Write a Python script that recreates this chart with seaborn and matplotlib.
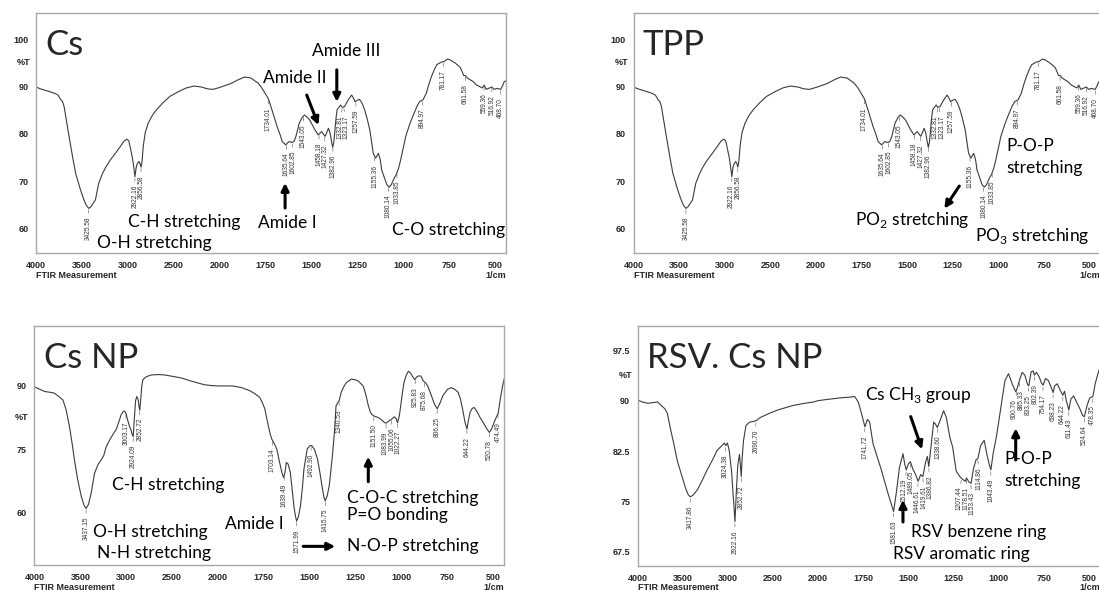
import numpy as np
import matplotlib
matplotlib.use("Agg")
import matplotlib.pyplot as plt
import seaborn as sns
from matplotlib.ticker import FixedLocator

# ---- spectra (wavenumber 1/cm, %T) ----
# Cs and TPP panels show the same trace
cs_wn = [4000, 3950, 3900, 3850, 3800, 3760, 3730, 3710, 3694, 3670, 3640, 3600, 3568, 3520,
         3478, 3450, 3425, 3400, 3353, 3317, 3281, 3240, 3191, 3140, 3083, 3040, 3011, 2990,
         2975, 2950, 2935, 2922, 2910, 2900, 2880, 2867, 2856, 2845, 2831, 2810, 2777, 2730,
         2687, 2620, 2543, 2450, 2363, 2280, 2200, 2130, 2070, 2000, 1940, 1900, 1865, 1830,
         1790, 1770, 1753, 1734, 1715, 1700, 1687, 1670, 1659, 1640, 1622, 1607, 1595, 1584,
         1566, 1550, 1538, 1525, 1510, 1495, 1481, 1463, 1444, 1435, 1425, 1415, 1407, 1398,
         1392, 1384, 1378, 1373, 1366, 1360, 1341, 1332, 1319, 1305, 1294, 1281, 1270, 1262,
         1250, 1238, 1225, 1210, 1195, 1182, 1170, 1163, 1150, 1135, 1125, 1117, 1100, 1089,
         1076, 1065, 1057, 1045, 1038, 1025, 1014, 1000, 986, 965, 948, 925, 911, 892, 874,
         860, 846, 830, 817, 795, 776, 758, 743, 715, 700, 687, 670, 661, 650, 635, 621, 600,
         584, 570, 559, 548, 535, 517, 505, 490, 469, 458, 450, 440]
cs_t = [89.9, 89.5, 89.2, 88.9, 88.6, 88.2, 87.2, 86.8, 85.8, 83.0, 79.5, 75.0, 71.7, 68.5,
        66.1, 64.9, 64.3, 64.7, 66.1, 69.6, 71.4, 73.0, 74.5, 75.8, 77.3, 78.5, 78.9, 78.6,
        77.3, 75.0, 73.0, 71.0, 72.8, 73.6, 74.2, 73.8, 73.0, 74.2, 77.5, 80.3, 82.3, 84.0,
        85.1, 86.5, 87.9, 88.9, 89.7, 90.1, 89.9, 89.5, 89.4, 89.8, 90.6, 91.4, 92.0, 91.8,
        90.7, 89.7, 88.6, 87.4, 85.1, 83.2, 81.6, 79.8, 78.4, 77.7, 78.4, 78.2, 78.4, 79.5,
        82.3, 83.5, 84.0, 83.6, 83.0, 81.9, 80.9, 79.8, 80.5, 80.0, 79.5, 80.4, 81.2, 80.2,
        78.8, 77.2, 78.2, 80.2, 83.3, 85.1, 86.1, 85.6, 85.8, 86.8, 87.5, 88.2, 87.5, 86.8,
        87.1, 87.3, 86.6, 85.1, 83.0, 80.9, 77.8, 75.9, 74.9, 75.9, 74.6, 72.4, 70.5, 69.3,
        68.8, 69.3, 70.0, 71.0, 71.4, 72.8, 74.5, 77.0, 79.5, 82.0, 83.7, 85.8, 86.8, 87.2,
        88.6, 90.5, 92.1, 93.6, 94.6, 95.1, 95.3, 95.8, 95.6, 94.9, 94.4, 93.9, 92.3, 92.3,
        91.8, 91.4, 91.1, 90.3, 90.0, 89.7, 90.3, 89.4, 89.6, 89.9, 89.4, 89.6, 89.4, 90.2,
        91.0, 91.2]
cs_peaks = ["3425.58", "2922.16", "2856.58", "1734.01", "1635.64", "1602.85", "1543.05",
            "1458.18", "1427.32", "1382.96", "1332.81", "1323.17", "1257.59", "1155.36",
            "1080.14", "1033.85", "894.97", "781.17", "661.58", "559.36", "516.92", "468.70",
            "424.34"]

csnp_wn = [4000, 3950, 3890, 3830, 3782, 3740, 3690, 3655, 3618, 3590, 3564, 3530, 3490,
           3460, 3437, 3410, 3382, 3345, 3309, 3273, 3245, 3218, 3180, 3145, 3109, 3080,
           3055, 3030, 3015, 3003, 2985, 2965, 2945, 2935, 2924, 2912, 2898, 2885, 2870,
           2860, 2852, 2843, 2830, 2818, 2780, 2727, 2650, 2582, 2500, 2400, 2300, 2218,
           2150, 2073, 2000, 1920, 1870, 1828, 1800, 1773, 1760, 1745, 1735, 1726, 1715,
           1707, 1695, 1680, 1665, 1652, 1643, 1635, 1628, 1618, 1606, 1595, 1585, 1578,
           1572, 1562, 1551, 1540, 1532, 1522, 1514, 1500, 1490, 1475, 1458, 1445, 1431,
           1422, 1416, 1405, 1394, 1385, 1375, 1365, 1357, 1347, 1340, 1329, 1315, 1301,
           1274, 1255, 1237, 1209, 1195, 1181, 1170, 1163, 1151, 1126, 1110, 1092, 1084,
           1070, 1055, 1040, 1030, 1022, 1012, 1005, 995, 987, 975, 963, 950, 941, 928,
           920, 913, 900, 894, 882, 870, 858, 840, 821, 806, 790, 775, 750, 729, 710, 692,
           680, 668, 655, 644, 636, 627, 615, 605, 590, 572, 555, 535, 522, 510, 495, 480,
           474, 460, 450, 440]
csnp_t = [89.8, 89.3, 88.7, 88.5, 88.3, 87.6, 86.7, 84.4, 80.4, 76.5, 72.5, 68.0, 63.9,
          61.8, 61.0, 62.0, 64.6, 69.3, 71.3, 72.5, 73.5, 75.6, 77.2, 78.5, 79.7, 81.5,
          83.2, 84.0, 84.0, 83.5, 82.0, 80.5, 79.4, 78.5, 78.0, 82.0, 86.5, 87.5, 86.8,
          85.0, 84.3, 86.5, 90.0, 91.5, 92.2, 92.6, 92.7, 92.6, 92.3, 91.9, 91.2, 90.7,
          90.3, 90.1, 90.0, 90.0, 89.6, 88.9, 88.2, 87.3, 86.2, 84.6, 82.5, 80.6, 78.5,
          77.4, 76.5, 75.1, 72.0, 69.5, 68.3, 69.5, 71.9, 71.5, 69.5, 65.0, 61.0, 59.2,
          58.0, 59.0, 61.5, 66.0, 70.3, 73.0, 75.1, 75.8, 75.9, 75.0, 72.7, 69.5, 65.6,
          63.5, 62.8, 64.0, 66.4, 70.0, 74.3, 79.5, 85.3, 86.1, 86.5, 88.5, 89.8, 90.8,
          91.6, 91.5, 91.2, 90.0, 88.0, 85.3, 83.8, 83.3, 82.9, 82.5, 82.0, 81.3, 81.2,
          81.7, 82.1, 82.7, 82.3, 81.3, 83.0, 85.3, 88.5, 90.8, 92.5, 93.5, 93.0, 92.3,
          91.5, 92.0, 92.3, 92.4, 92.3, 91.2, 90.8, 90.0, 88.0, 85.7, 84.6, 86.0, 87.7,
          89.2, 89.6, 89.2, 88.5, 87.0, 84.6, 81.5, 79.8, 81.8, 83.8, 84.7, 84.9, 84.0,
          82.5, 81.3, 79.8, 79.0, 79.8, 81.5, 83.0, 83.5, 87.5, 90.0, 91.8]
csnp_peaks = ["3437.15", "3003.17", "2924.09", "2852.72", "1703.14", "1639.49", "1571.99",
              "1492.90", "1415.75", "1340.53", "1151.50", "1083.99", "1055.06", "1022.27",
              "925.83", "875.68", "806.25", "644.22", "520.78", "474.49", "424.34"]

rsv_wn = [4000, 3950, 3886, 3830, 3779, 3750, 3725, 3700, 3671, 3640, 3600, 3560, 3520,
          3470, 3440, 3418, 3390, 3340, 3290, 3230, 3170, 3120, 3060, 3040, 3024, 3005,
          2985, 2960, 2940, 2922, 2905, 2890, 2872, 2862, 2853, 2842, 2828, 2800, 2760,
          2720, 2690, 2640, 2560, 2450, 2350, 2270, 2150, 2050, 2000, 1943, 1880, 1834,
          1797, 1778, 1760, 1741, 1727, 1715, 1696, 1650, 1613, 1582, 1566, 1550, 1530,
          1520, 1512, 1500, 1489, 1475, 1460, 1446, 1432, 1420, 1405, 1395, 1387, 1375,
          1360, 1350, 1340, 1325, 1305, 1290, 1270, 1255, 1235, 1215, 1200, 1185, 1178,
          1165, 1153, 1140, 1125, 1115, 1100, 1080, 1065, 1052, 1043, 1030, 1010, 985,
          965, 945, 925, 905, 895, 885, 870, 855, 840, 833, 820, 808, 802, 790, 775, 762,
          754, 740, 725, 712, 698, 690, 675, 660, 644, 635, 625, 611, 600, 585, 570, 550,
          535, 525, 510, 495, 478, 465, 450, 440]
rsv_t = [90.1, 89.8, 89.6, 89.7, 89.8, 89.4, 89.1, 88.8, 88.1, 86.0, 83.6, 81.0, 79.2,
         77.0, 76.0, 75.7, 75.9, 76.7, 78.0, 79.7, 81.2, 82.6, 83.4, 83.7, 83.3, 83.7,
         82.5, 79.5, 75.5, 72.0, 77.0, 80.5, 82.0, 80.5, 78.7, 81.5, 84.0, 86.3, 86.8,
         86.9, 87.0, 87.5, 88.0, 88.6, 89.0, 89.3, 89.6, 89.8, 90.0, 90.2, 90.4, 90.5,
         90.6, 89.8, 88.1, 86.1, 87.2, 86.8, 83.6, 79.7, 76.2, 73.5, 76.5, 80.0, 82.1,
         80.5, 79.7, 80.6, 80.9, 79.8, 79.0, 78.0, 79.0, 78.7, 80.8, 81.7, 80.2, 83.2,
         86.8, 86.5, 86.0, 87.0, 88.5, 87.5, 84.5, 83.1, 79.5, 78.7, 78.3, 78.0, 78.5,
         77.9, 77.7, 79.8, 81.2, 81.4, 83.3, 84.1, 82.0, 80.5, 79.7, 82.2, 85.0, 89.5,
         93.0, 94.0, 92.5, 91.3, 92.0, 93.0, 94.2, 93.8, 92.4, 92.2, 94.3, 94.4, 93.8,
         94.2, 93.5, 92.6, 92.3, 93.3, 93.0, 92.2, 91.2, 92.2, 92.5, 91.6, 90.8, 91.4,
         90.0, 88.6, 90.2, 90.7, 89.9, 88.8, 87.8, 87.6, 89.3, 90.4, 90.6, 92.5, 94.0,
         94.8]
rsv_peaks = ["3417.86", "3024.38", "2922.16", "2852.72", "2690.70", "1741.72", "1581.63",
             "1512.19", "1489.05", "1446.61", "1419.61", "1386.82", "1338.60", "1207.44",
             "1178.51", "1153.43", "1114.86", "1043.49", "900.76", "885.33", "833.25",
             "802.39", "754.17", "698.23", "644.22", "611.43", "524.64", "478.35"]


# FTIR x axis: half scale above 2000 1/cm
def fwd(x):
    x = np.asarray(x, dtype=float)
    return np.where(x > 2000, 2000 + (x - 2000) / 2, x)


def inv(v):
    v = np.asarray(v, dtype=float)
    return np.where(v > 2000, 2000 + (v - 2000) * 2, v)


sns.set_style("white")
plt.rcParams["font.family"] = ["Lato", "DejaVu Sans"]

W, H = 1099, 590
fig = plt.figure(figsize=(W / 100, H / 100), dpi=100)

LINE = "#3c3c3c"
SPINE = "#a8a8a8"
SMALL = dict(fontfamily="Liberation Sans", fontsize=6.5, fontweight="bold")


def make_axes(left, top, width, height):
    return fig.add_axes([left / W, 1 - (top + height) / H, width / W, height / H])


def spread(gs, gap):
    p = np.array(gs, dtype=float)
    order = np.argsort(p)
    q = p[order]
    for _ in range(200):
        moved = False
        for i in range(len(q) - 1):
            d = q[i + 1] - q[i]
            if d < gap - 1e-6:
                s = (gap - d) / 2
                q[i] -= s
                q[i + 1] += s
                moved = True
        if not moved:
            break
    out = np.empty_like(q)
    out[order] = q
    return out


def panel(ax, wn, t, peaks, ylim, major, minor, pct_y, title, w_px, h_px):
    sns.lineplot(x=wn, y=t, ax=ax, color=LINE, linewidth=0.8, sort=False,
                 estimator=None, legend=False)
    ax.set_xscale("function", functions=(fwd, inv))
    ax.set_xlim(4000, 440)
    ax.set_ylim(*ylim)
    ax.set_xlabel("")
    ax.set_ylabel("")
    ax.xaxis.set_major_locator(FixedLocator([4000, 3500, 3000, 2500, 2000, 1750, 1500,
                                             1250, 1000, 750, 500]))
    ax.xaxis.set_minor_locator(FixedLocator(list(np.arange(3900, 2000, -100)) +
                                            list(np.arange(1950, 440, -50))))
    ax.yaxis.set_major_locator(FixedLocator(major))
    ax.yaxis.set_minor_locator(FixedLocator(minor))
    ax.tick_params(which="both", direction="out", color=SPINE, width=0.7)
    ax.tick_params(which="major", length=4, pad=1.5)
    ax.tick_params(which="minor", length=2)
    ax.xaxis.set_major_formatter(matplotlib.ticker.FuncFormatter(lambda v, p: f"{v:.0f}"))
    ax.yaxis.set_major_formatter(matplotlib.ticker.FuncFormatter(lambda v, p: f"{v:g}"))
    for lab in ax.get_xticklabels() + ax.get_yticklabels():
        lab.set_fontfamily("Liberation Sans")
        lab.set_fontsize(6.5)
        lab.set_fontweight("bold")
    for s in ax.spines.values():
        s.set_color(SPINE)
        s.set_linewidth(1.0)
    ax.text(-0.012, pct_y, "%T", transform=ax.get_yaxis_transform(), ha="right",
            va="center", **SMALL)
    ax.text(0, -22 / h_px, "FTIR Measurement", transform=ax.transAxes, ha="left",
            va="center", **SMALL)
    ax.text(1, -22 / h_px, "1/cm", transform=ax.transAxes, ha="right", va="center",
            **SMALL)
    ax.text(0.02, 1 - 32 / h_px, title, transform=ax.transAxes, ha="left", va="center",
            fontsize=25)

    # peak labels with short leader lines
    px_per_u = w_px / (fwd(4000) - fwd(440))
    pw = np.array([float(p) for p in peaks])
    gpos = fwd(pw)
    lab_g = spread(gpos, 6.5 / px_per_u)
    wn_asc = np.array(wn[::-1], dtype=float)
    t_asc = np.array(t[::-1], dtype=float)
    for lbl, w, g0, g1 in zip(peaks, pw, gpos, lab_g):
        yv = np.interp(w, wn_asc, t_asc)
        dx = -(g1 - g0) * px_per_u * 0.72
        ax.annotate(lbl, xy=(w, yv - 0.3), xytext=(dx, -5), textcoords="offset points",
                    rotation=90, ha="center", va="top", fontsize=4.7,
                    fontfamily="Liberation Sans", color="#333333",
                    arrowprops=dict(arrowstyle="-", lw=0.4, color="#555555",
                                    shrinkA=0, shrinkB=0))


def text(ax, x, y, s, size=12.5):
    ax.text(x, y, s, transform=ax.transAxes, ha="left", va="center", fontsize=size,
            color="black")


def arrow(ax, x0, y0, x1, y1):
    ax.annotate("", xy=(x1, y1), xytext=(x0, y0), xycoords="axes fraction",
                textcoords="axes fraction",
                arrowprops=dict(arrowstyle="-|>", lw=2.2, color="black",
                                mutation_scale=11, shrinkA=0, shrinkB=0))


# Cs
ax1 = make_axes(36, 13, 470, 240)
panel(ax1, cs_wn, cs_t, cs_peaks, (54.9, 105.5), [60, 70, 80, 90, 100],
      list(np.arange(56, 105, 2)), 95, "Cs", 470, 240)
text(ax1, 0.588, 0.840, "Amide III")
arrow(ax1, 0.640, 0.763, 0.640, 0.630)
text(ax1, 0.484, 0.728, "Amide II")
arrow(ax1, 0.576, 0.658, 0.601, 0.533)
text(ax1, 0.473, 0.124, "Amide I")
arrow(ax1, 0.530, 0.1875, 0.530, 0.292)
text(ax1, 0.196, 0.130, "C-H stretching")
text(ax1, 0.129, 0.043, "O-H stretching")
text(ax1, 0.757, 0.096, "C-O stretching")

# TPP
ax2 = make_axes(633.5, 13, 467, 240)
panel(ax2, cs_wn, cs_t, cs_peaks, (54.9, 105.5), [60, 70, 80, 90, 100],
      list(np.arange(56, 105, 2)), 95, "TPP", 467, 240)
text(ax2, 0.7976, 0.446, "P-O-P")
text(ax2, 0.7976, 0.353, "stretching")
text(ax2, 0.4743, 0.1375, r"PO$_\mathregular{2}$ stretching")
arrow(ax2, 0.6976, 0.279, 0.6655, 0.185)
text(ax2, 0.7313, 0.071, r"PO$_\mathregular{3}$ stretching")

# Cs NP
ax3 = make_axes(34.4, 326, 470, 239)
panel(ax3, csnp_wn, csnp_t, csnp_peaks, (47.6, 104.2), [60, 75, 90],
      list(np.arange(48, 104, 3)), 82.5, "Cs NP", 470, 239)
text(ax3, 0.1645, 0.335, "C-H stretching")
text(ax3, 0.125, 0.138, "O-H stretching")
text(ax3, 0.1325, 0.050, "N-H stretching")
text(ax3, 0.4055, 0.171, "Amide I")
text(ax3, 0.6645, 0.280, "C-O-C stretching")
text(ax3, 0.6645, 0.208, "P=O bonding")
text(ax3, 0.6645, 0.078, "N-O-P stretching")
arrow(ax3, 0.572, 0.078, 0.640, 0.078)
arrow(ax3, 0.7104, 0.3485, 0.7104, 0.4531)

# RSV. Cs NP
ax4 = make_axes(637.7, 326, 462, 240)
panel(ax4, rsv_wn, rsv_t, rsv_peaks, (65.4, 101.1), [67.5, 75, 82.5, 90, 97.5],
      list(np.arange(66, 101, 1.5)), 93.75, "RSV. Cs NP", 462, 240)
text(ax4, 0.4913, 0.7125, r"Cs CH$_\mathregular{3}$ group")
arrow(ax4, 0.5909, 0.6225, 0.6154, 0.486)
text(ax4, 0.7944, 0.4446, "P-O-P")
text(ax4, 0.7944, 0.3542, "stretching")
arrow(ax4, 0.8182, 0.4417, 0.8182, 0.5737)
text(ax4, 0.5922, 0.1417, "RSV benzene ring")
text(ax4, 0.5526, 0.050, "RSV aromatic ring")
arrow(ax4, 0.5742, 0.1833, 0.5742, 0.275)

fig.savefig("out.png", dpi=100)
